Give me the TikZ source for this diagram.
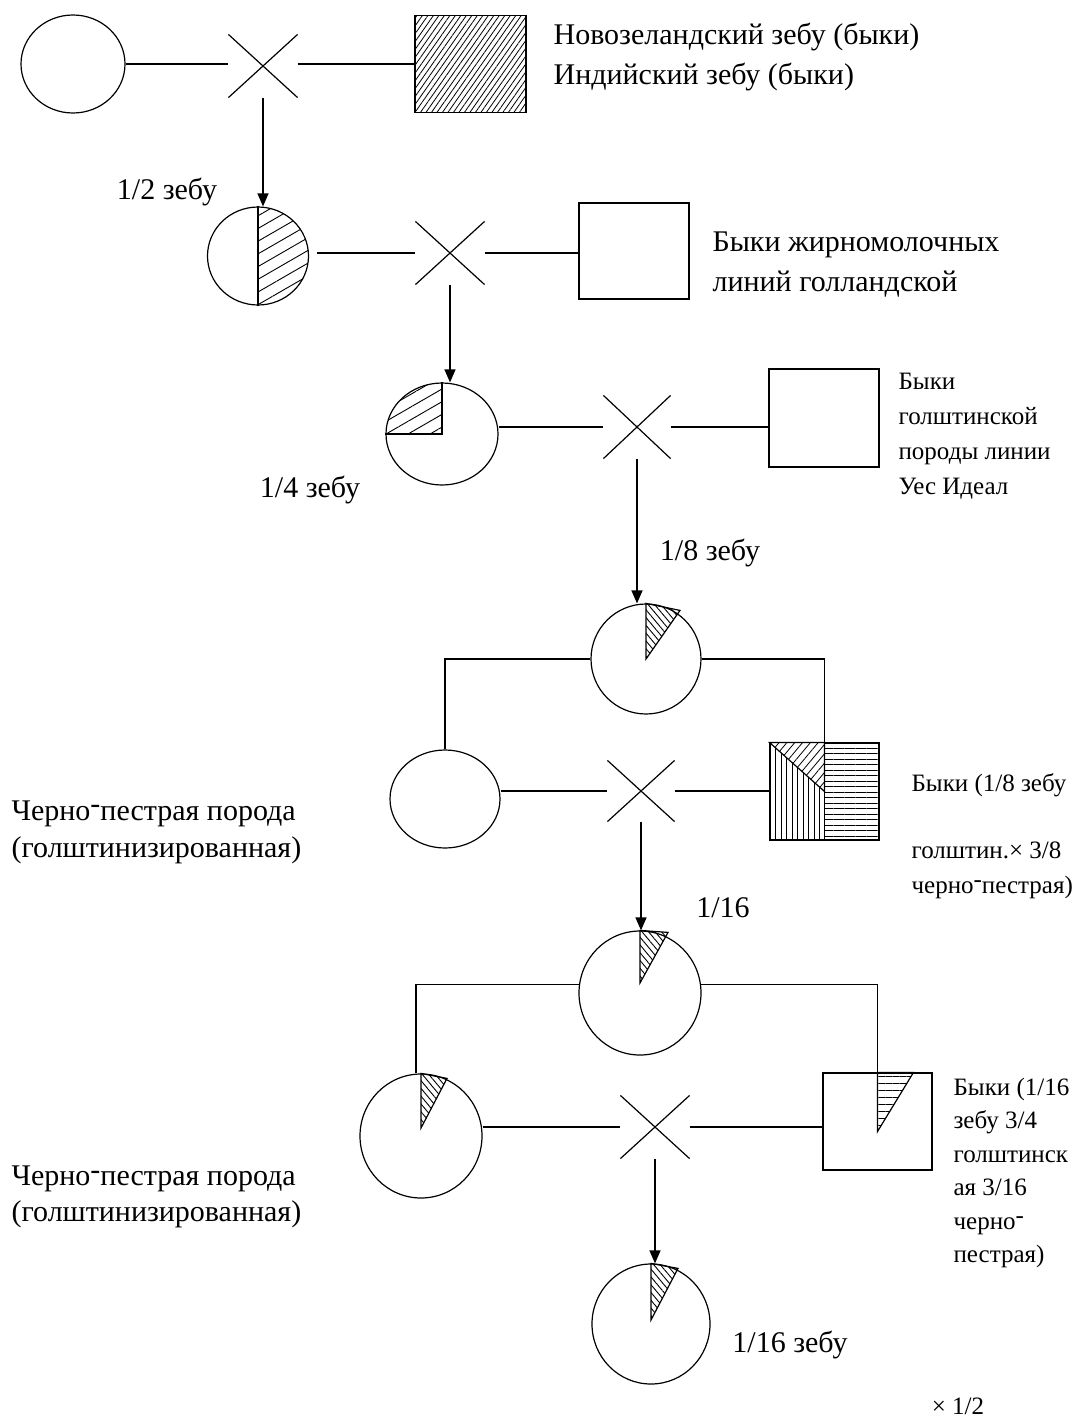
\documentclass[tikz,border=0pt]{standalone}
\usepackage{fontspec}
\setmainfont{Liberation Serif}
\usetikzlibrary{shapes.geometric,shapes.misc,arrows.meta,patterns.meta}

\newcommand{\rhy}{\raisebox{0.22em}{-}}

\begin{document}
\begin{tikzpicture}[x=1pt, y=-1pt, line width=1.2pt,
  every node/.style={font=\fontsize{25}{35}\selectfont},
  bigtxt/.style={font=\fontsize{30}{40}\selectfont},
  cow/.style={draw, ellipse, inner sep=0pt},
  bull/.style={draw, rectangle, inner sep=0pt},
  mate/.style={draw, cross out, inner sep=0pt, minimum width=68pt, minimum height=62pt},
  txt/.style={anchor=west, align=left, inner sep=0pt},
  arr/.style={-{Triangle[length=13pt,width=11pt]}},
  dense/.style={pattern={Lines[angle=55,distance=4.5pt,line width=0.8pt]}},
  wide/.style={pattern={Lines[angle=30,distance=11pt,line width=0.9pt]}},
  back/.style={pattern={Lines[angle=-50,distance=5pt,line width=0.9pt]}}]
  \useasboundingbox (0,0) rectangle (1077,1419);

  % first cross
  \node[cow, minimum width=104pt, minimum height=98pt] (c1) at (73,64) {};
  \node[mate] (x1) at (263,66) {};
  \node[bull, dense, minimum width=111pt, minimum height=97pt] (s1) at (470.5,64) {};
  \draw (c1.east) -- (c1.east -| x1.west);
  \draw (x1.east |- c1.east) -- (s1.west);
  \node[txt, bigtxt] (t1) at (553,57)
    {Новозеландский зебу (быки)\\Индийский зебу (быки)};
  \node[bigtxt] (f1) at (167,192) {1/2 зебу};

  % second cross
  \node[cow, minimum width=101pt, minimum height=98pt,
    path picture={\fill[wide] (path picture bounding box.north)
      rectangle (path picture bounding box.south east);}] (c2) at (258,256) {};
  \draw (c2.north) -- (c2.south);
  \draw[arr] (x1.south) -- (x1.south |- c2.north);
  \node[mate] (x2) at (450,253) {};
  \node[bull, minimum width=110pt, minimum height=96pt] (s2) at (634,251) {};
  \draw ([xshift=8pt]c2.east |- x2) -- (x2);
  \draw (x2) -- (x2 -| s2.west);
  \node[txt, bigtxt] (t2) at (712,265)
    {Быки жирномолочных\\линий голландской};

  % third cross
  \node[cow, minimum width=112pt, minimum height=102pt,
    path picture={\fill[wide] (path picture bounding box.center)
      rectangle (path picture bounding box.north west);}] (c3) at (442,434) {};
  \draw (c3.west |- c3.center) -- (c3.center) -- (c3.north);
  \draw[arr] (x2.south) -- (x2.south |- c3.north);
  \node[mate, minimum width=66pt] (x3) at (637,427) {};
  \node[bull, minimum width=110pt, minimum height=98pt] (s3) at (824,418) {};
  \draw (c3.east |- x3) -- (x3);
  \draw (x3) -- (s3.west |- x3);
  \node[txt] (t3) at (898,436)
    {Быки\\голштинской\\породы линии\\Уес Идеал};
  \node[bigtxt] (f2) at (310,490) {1/4 зебу};
  \node[bigtxt] (f3) at (710,553) {1/8 зебу};

  % 1/8 cow and fourth cross
  \node[cow, minimum width=110pt, minimum height=110pt] (c4) at (646,659) {};
  \draw[arr] (x3.south) -- (x3.south |- c4.north);
  \draw[back] (c4.center) -- (c4.north) -- ++(34,7) -- cycle;
  \node[cow, minimum width=110pt, minimum height=98pt] (c5) at (445,799) {};
  \node[mate, minimum width=66pt, minimum height=60pt] (x4) at (641,791) {};
  \node[bull, minimum width=109pt, minimum height=97pt] (s4) at (824.5,791.5) {};
  \fill[pattern={Lines[angle=90,distance=5.5pt,line width=0.9pt]}]
    (s4.north west) rectangle (s4.south);
  \fill[pattern={Lines[angle=0,distance=5.5pt,line width=0.9pt]}]
    (s4.north) rectangle (s4.south east);
  \fill[white] (s4.north west) -- (s4.north) -- (s4.center) -- cycle;
  \draw[pattern={Lines[angle=50,distance=6pt,line width=0.8pt]}]
    (s4.north west) -- (s4.north) -- (s4.center) -- cycle;
  \draw (s4.north west) rectangle (s4.south east);
  \draw (s4.north) -- (s4.south);
  \draw (c4.west) -| (c5.north);
  \draw (c4.east) -| (s4.north);
  \draw (c5.east |- x4) -- (x4);
  \draw (x4) -- (x4 -| s4.west);
  \node[txt] (t4) at (911,785) {Быки (1/8 зебу};
  \node[txt] (t5) at (911,870) {голштин.× 3/8\\черно\rhy пестрая)};
  \node[txt, bigtxt, font=\fontsize{30}{37}\selectfont] (t6) at (11,832)
    {Черно\rhy пестрая порода\\(голштинизированная)};
  \node[bigtxt] (f4) at (723,908) {1/16};

  % 1/16 cow and fifth cross
  \node[cow, minimum width=122pt, minimum height=124pt] (c6) at (640,993) {};
  \draw[arr] (x4.south) -- (x4.south |- c6.north);
  \draw[back] ([yshift=10pt]c6.center) -- (c6.north) -- ++(28,2) -- cycle;
  \node[cow, minimum width=122pt, minimum height=124pt] (c7) at (421,1136) {};
  \draw[back] ([yshift=8pt]c7.center) -- (c7.north) -- ++(26,5) -- cycle;
  \node[mate] (x5) at (655,1127) {};
  \node[bull, minimum width=109pt, minimum height=97pt] (s5) at (877.5,1121.5) {};
  \draw[pattern={Lines[angle=0,distance=7pt,line width=0.9pt]}]
    (s5.north) -- ++(36,0) -- ([yshift=-10pt]s5.center) -- cycle;
  \draw (c6.172) -| ([xshift=-5pt]c7.north);
  \draw (c6.8) -| (s5.north);
  \draw (c7.east |- x5) -- (x5);
  \draw (x5) -- (x5 -| s5.west);
  \node[txt, font=\fontsize{25}{33.5}\selectfont] (t7) at (953,1173)
    {Быки (1/16\\зебу 3/4\\голштинск\\ая 3/16\\черно\rhy\\пестрая)};
  \node[txt, font=\fontsize{30}{36}\selectfont] (t8) at (11,1197)
    {Черно\rhy пестрая порода\\(голштинизированная)};

  % last offspring
  \node[cow, minimum width=118pt, minimum height=120pt] (c8) at (651,1324) {};
  \draw[arr] (x5.south) -- (x5.south |- c8.north);
  \draw[back] ([yshift=4pt]c8.center) -- (c8.north) -- ++(27,5) -- cycle;
  \node[bigtxt] (f5) at (790,1345) {1/16 зебу};
  \node (f6) at (958,1406) {× 1/2};
\end{tikzpicture}
\end{document}
